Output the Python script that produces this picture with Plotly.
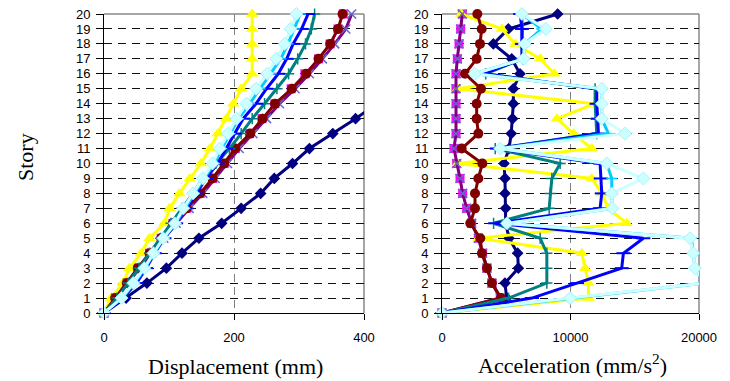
import plotly.graph_objects as go

stories = list(range(0, 21))

# Displacement (mm)
disp_navy = [0, 34, 66, 96, 120, 146, 181, 211, 241, 262, 290, 316, 352, 387, 420, 452, 483, 512, 540, 566, 590]
disp_magenta = [0, 17, 35, 52, 70, 88, 106, 127, 148, 167, 185, 202, 224, 243, 263, 288, 309, 330, 348, 360, 368]
disp_yellow = [0, 11, 29, 39, 57, 70, 93, 101, 116, 132, 149, 163, 175, 188, 199, 211, 228, 228, 228, 228, 228]
disp_purple = [0, 18, 36, 54, 73, 92, 111, 131, 152, 171, 190, 208, 229, 250, 270, 294, 316, 336, 355, 372, 381]
disp_maroon = [0, 17, 35, 52, 70, 88, 106, 127, 148, 167, 185, 202, 225, 244, 263, 289, 311, 330, 348, 360, 367]
disp_teal = [0, 20, 37, 54, 70, 87, 103, 120, 137, 152, 172, 193, 211, 228, 247, 266, 284, 298, 310, 319, 324]
disp_blue = [0, 29, 50, 65, 78, 93, 111, 127, 142, 157, 175, 188, 201, 214, 234, 250, 268, 281, 291, 304, 314]
disp_sky = [0, 28, 47, 63, 77, 92, 110, 124, 139, 154, 170, 181, 194, 207, 224, 240, 257, 272, 283, 293, 302]
disp_lcyan = [0, 27, 45, 62, 76, 91, 109, 122, 137, 152, 167, 178, 191, 204, 219, 234, 251, 265, 278, 287, 296]

# Acceleration (mm/s^2)
acc_navy = [0, 5032, 4903, 5940, 5888, 5214, 4955, 4955, 4903, 4903, 4825, 5214, 5387, 5491, 5551, 5551, 6070, 5421, 3996, 5162, 9000]
acc_magenta = [0, 4533, 3885, 3497, 3160, 2827, 2308, 1919, 1608, 1401, 1141, 934, 1090, 1090, 1090, 1090, 1090, 1193, 1323, 1452, 1582]
acc_yellow = [0, 11396, 11396, 11137, 10878, 2849, 14375, 12950, 12432, 11655, 1217, 11655, 10231, 8936, 11914, 1243, 8754, 7640, 5698, 4662, 1502]
acc_purple = [0, 4533, 3885, 3497, 3160, 2827, 2308, 1919, 1608, 1401, 1141, 934, 1090, 1090, 1090, 1090, 1090, 1193, 1323, 1452, 1582]
acc_maroon = [0, 4591, 3885, 3497, 3108, 2979, 2202, 2568, 2568, 2827, 3139, 1530, 2827, 2697, 2697, 3035, 1790, 2697, 2957, 3087, 2749]
acc_teal = [0, 5180, 8159, 8159, 8159, 7640, 4015, 8340, 8418, 8547, 9195, 4144, 12044, 11966, 11914, 11914, 3400, 6268, 6268, 6268, 6216]
acc_blue = [0, 7000, 10500, 13987, 14116, 15671, 4144, 12302, 12432, 12354, 12302, 4274, 12173, 12121, 12044, 12044, 3237, 6216, 6216, 6216, 6087]
acc_sky = [0, 9970, 20410, 19685, 19556, 19400, 5050, 13262, 13210, 13210, 12820, 4533, 12950, 12432, 12432, 12432, 2538, 6346, 6424, 7770, 6216]
acc_lcyan = [0, 9970, 20462, 19685, 19556, 19297, 5050, 13262, 13210, 15671, 12820, 4533, 14245, 12432, 12432, 12432, 2538, 6346, 6424, 8081, 6216]

disp_ticks = [0, 200, 400]
acc_ticks = [0, 10000, 20000]
acc_ticklabels = ["0", "10000", "20000"]

series = [
    # name, disp, acc, line color, line width, marker symbol, marker color, size, marker line color, marker line width
    ("navy", disp_navy, acc_navy, "#000080", 3, "diamond", "#000080", 9, "#000080", 0),
    ("magenta", disp_magenta, acc_magenta, "#FF00FF", 2, "square", "#FF00FF", 9, "#FF00FF", 0),
    ("yellow", disp_yellow, acc_yellow, "#FFFF00", 3, "triangle-up", "#FFFF00", 11, "#FFFF00", 0),
    ("purple", disp_purple, acc_purple, "#800080", 3, "x-thin-open", "#6666CC", 9, "#6666CC", 1.5),
    ("maroon", disp_maroon, acc_maroon, "#800000", 3, "circle", "#800000", 10, "#800000", 0),
    ("teal", disp_teal, acc_teal, "#008080", 3, "cross-thin-open", "#008080", 8, "#008080", 1.5),
    ("blue", disp_blue, acc_blue, "#0000FF", 3, "line-ew-open", "#0000FF", 10, "#0000FF", 2),
    ("sky", disp_sky, acc_sky, "#00CCFF", 3, "line-ew-open", "#00CCFF", 8, "#00CCFF", 1.5),
    ("lcyan", disp_lcyan, acc_lcyan, "#CCFFFF", 3, "diamond", "#CCFFFF", 10, "#99EEFF", 0.8),
]

fig = go.Figure()
for name, d, a, lc, lw, sym, mc, ms, mlc, mlw in series:
    common = dict(mode="lines+markers", showlegend=False,
                  line=dict(color=lc, width=lw),
                  marker=dict(symbol=sym, color=mc, size=ms, line=dict(color=mlc, width=mlw)))
    fig.add_trace(go.Scatter(x=d, y=stories, xaxis="x", yaxis="y",
                             cliponaxis=(name == "navy"), **common))
    fig.add_trace(go.Scatter(x=a, y=stories, xaxis="x2", yaxis="y2",
                             cliponaxis=False, **common))

W, H = 730, 381
ydom = [(H - 313) / H, (H - 14) / H]
tickfont = dict(family="Liberation Sans", size=13, color="black")

xcommon = dict(showgrid=True, gridcolor="#808080", griddash="8px,5px", gridwidth=1,
               showline=True, linecolor="black", linewidth=1, ticks="outside",
               ticklen=6, tickcolor="black", zeroline=False, tickfont=tickfont,
               ticklabelstandoff=6, automargin=False)
ycommon = dict(range=[0, 20], tickvals=stories, showgrid=True, gridcolor="#111111",
               griddash="8px,6px", gridwidth=1, showline=True, linecolor="black",
               linewidth=1, ticks="outside", ticklen=7, tickcolor="black",
               zeroline=False, tickfont=tickfont, ticklabelstandoff=3, automargin=False)

fig.update_layout(
    width=W, height=H, margin=dict(l=0, r=0, t=0, b=0, autoexpand=False),
    paper_bgcolor="white", plot_bgcolor="white",
    xaxis=dict(domain=[104 / W, 364 / W], range=[0, 400], tickvals=disp_ticks, anchor="y", **xcommon),
    yaxis=dict(domain=ydom, anchor="x", **ycommon),
    xaxis2=dict(domain=[442 / W, 699 / W], range=[0, 20000], tickvals=acc_ticks,
                ticktext=acc_ticklabels, anchor="y2", **xcommon),
    yaxis2=dict(domain=ydom, anchor="x2", **ycommon),
)

for xr, yr in [("x domain", "y domain"), ("x2 domain", "y2 domain")]:
    fig.add_shape(type="line", xref=xr, yref=yr, x0=0, x1=1, y0=1, y1=1,
                  line=dict(color="#888888", width=1.5), layer="below")
    fig.add_shape(type="line", xref=xr, yref=yr, x0=1, x1=1, y0=0, y1=1,
                  line=dict(color="#888888", width=1.5), layer="below")

serif = dict(family="Liberation Serif", size=22, color="black")
fig.add_annotation(text="Story", x=25 / W, y=(H - 157) / H, xref="paper", yref="paper",
                   textangle=-90, showarrow=False, font=serif, xanchor="center", yanchor="middle")
fig.add_annotation(text="Displacement (mm)", x=235 / W, y=(H - 366) / H, xref="paper", yref="paper",
                   showarrow=False, font=serif, xanchor="center", yanchor="middle")
fig.add_annotation(text="Acceleration (mm/s<sup>2</sup>)", x=572 / W, y=(H - 364) / H, xref="paper", yref="paper",
                   showarrow=False, font=serif, xanchor="center", yanchor="middle")

fig.write_html("out.html")
